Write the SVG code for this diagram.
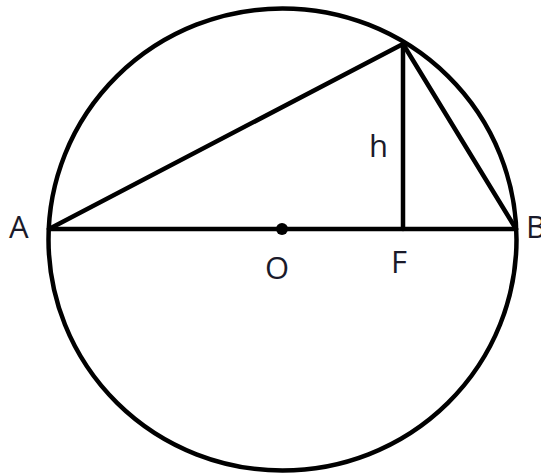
<svg xmlns="http://www.w3.org/2000/svg" width="541" height="475" viewBox="0 0 541 475">
<style>
.ln{fill:none;stroke:#000;stroke-width:4.5;stroke-linecap:round;stroke-linejoin:round}
.lb{font-family:"Open Sans","Liberation Sans",sans-serif;font-size:31px;fill:#1a1a2a}
</style>
<rect width="541" height="475" fill="#fff"/>
<g id="circle"><ellipse class="ln" cx="282.5" cy="239.5" rx="234" ry="231"/></g>
<g id="connectors">
<line class="ln" x1="49" y1="229" x2="516" y2="229"/>
<line class="ln" x1="49" y1="229" x2="403" y2="44"/>
<line class="ln" x1="403" y1="44" x2="516" y2="229"/>
<line class="ln" x1="403" y1="44" x2="403" y2="229"/>
</g>
<g id="O"><circle cx="282" cy="229" r="6" fill="#000"/><text class="lb" x="265" y="279">O</text></g>
<g id="A"><text class="lb" x="9" y="238">A</text></g>
<g id="B"><text class="lb" x="526" y="238">B</text></g>
<g id="F"><text class="lb" x="391" y="273">F</text></g>
<g id="h"><text class="lb" x="369" y="157">h</text></g>
</svg>
